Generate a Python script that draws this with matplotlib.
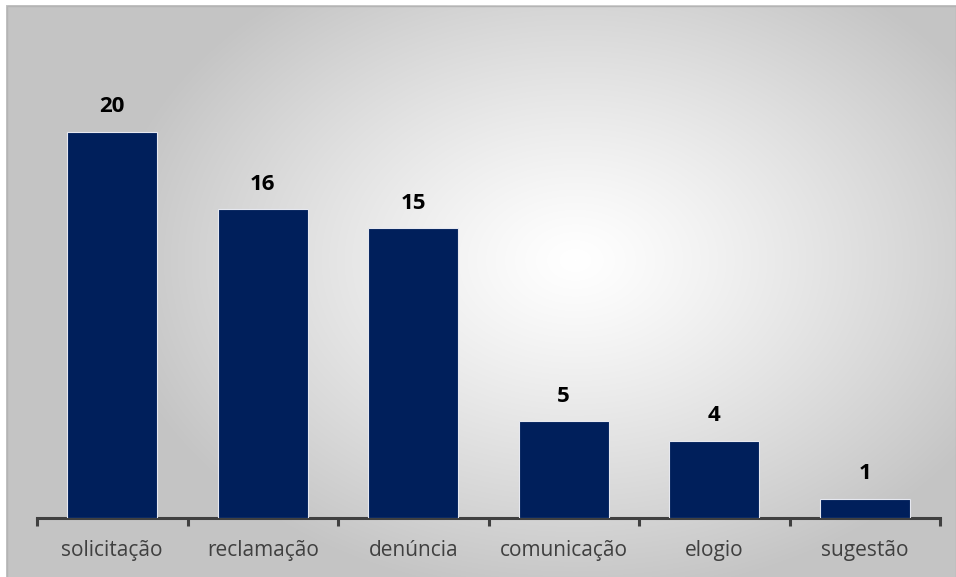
import numpy as np
import matplotlib
matplotlib.use("Agg")
import matplotlib.pyplot as plt
from matplotlib.patches import Rectangle

categories = ["solicitação", "reclamação", "denúncia", "comunicação", "elogio", "sugestão"]
values = [20, 16, 15, 5, 4, 1]

W, H, DPI = 956, 577, 100
fig = plt.figure(figsize=(W / DPI, H / DPI), dpi=DPI)
fig.patch.set_facecolor("white")

# radial gradient background of the chart area
bg_left, bg_top = 6, 5
bg = fig.add_axes([bg_left / W, 0, 1 - bg_left / W, 1 - bg_top / H])
bw, bh = W - bg_left, H - bg_top
yy, xx = np.mgrid[0:bh, 0:bw]
cx, cy = 575 - bg_left, 260 - bg_top
r = np.hypot((xx - cx) / 1.0, (yy - cy) / 0.72)
t = np.clip(r / 470.0, 0, 1)
t = t ** 1.2
shade = 1.0 - t * (1.0 - 0.77)
img = np.dstack([shade, shade, shade])
bg.imshow(img, aspect="auto", extent=[0, bw, bh, 0], interpolation="bilinear")
bg.set_xlim(0, bw)
bg.set_ylim(bh, 0)
bg.axis("off")
bg.add_patch(Rectangle((0.5, 0.5), bw - 1, bh, fill=False, edgecolor="#b4b4b4", lw=1.0))

# plot area
ax_left, ax_right = 37, 940
ax_bottom, ax_top = 518, 20
ax = fig.add_axes([ax_left / W, 1 - ax_bottom / H, (ax_right - ax_left) / W, (ax_bottom - ax_top) / H])
ax.patch.set_alpha(0)

x = np.arange(len(categories))
ax.bar(x, values, width=0.6, color="#001F5B", edgecolor="#e6e8f0", linewidth=0.8, zorder=3)
ax.set_xlim(-0.5, len(categories) - 0.5)
ax.set_ylim(0, 25.8)

for xi, v in zip(x, values):
    ax.annotate(str(v), (xi, v), xytext=(0, 10.5), textcoords="offset points",
                ha="center", va="bottom", fontsize=16, fontweight="bold",
                family=["Open Sans", "DejaVu Sans"], color="#000000")

for s in ["top", "right", "left"]:
    ax.spines[s].set_visible(False)
ax.spines["bottom"].set_color("#404040")
ax.spines["bottom"].set_linewidth(2.2)
ax.set_yticks([])

# ticks at category boundaries
ax.set_xticks(np.arange(-0.5, len(categories), 1.0))
ax.set_xticklabels([])
ax.tick_params(axis="x", which="major", direction="out", length=6, width=2.2, color="#404040")
ax.set_xticks(x, minor=True)
ax.set_xticklabels(categories, minor=True, fontsize=15, color="#404040",
                   family=["Open Sans", "DejaVu Sans"])
ax.tick_params(axis="x", which="minor", length=0, pad=16)

fig.savefig("out.png", dpi=DPI)
